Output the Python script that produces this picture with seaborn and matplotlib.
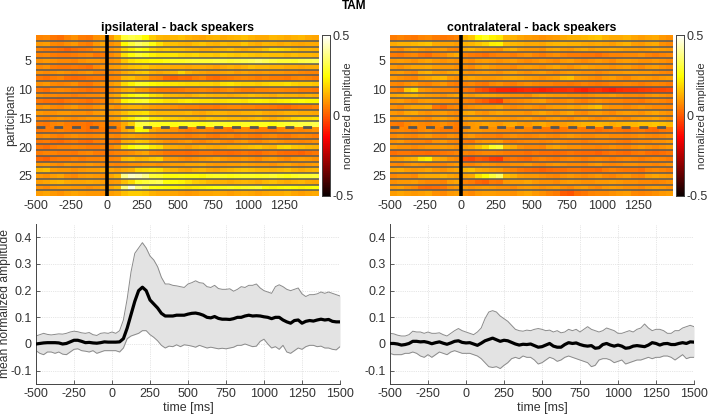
import matplotlib
matplotlib.use('Agg')
import matplotlib.pyplot as plt
import seaborn as sns
import numpy as np
import pandas as pd

sns.set_style('white')
plt.rcParams['font.family'] = ['Liberation Sans', 'DejaVu Sans']

# heatmap values in hundredths, one row per participant, 50 ms bins from -500
ipsi_rows = [
[6,7,4,3,6,8,5,4,8,9, 9,16,30,32,30,24,17,14,13,14,15,13,12,11,13,14,12,13,14,15,13,12,12,14,13,12,13,14,12,11],
[9,10,7,6,8,9,6,5,9,11, 8,10,24,30,34,32,26,20,16,15,14,13,15,16,14,13,15,14,14,16,13,12,14,13,12,13,12,11,12,12],
[6,5,4,3,1,3,4,5,8,9, 8,10,18,22,26,24,18,16,17,15,15,14,13,12,12,13,14,15,13,12,13,14,16,19,18,17,15,14,14,13],
[6,7,5,4,4,5,6,7,4,5, 7,9,20,25,29,27,23,21,21,21,19,18,19,17,17,16,18,17,16,17,16,15,16,15,15,14,15,14,14,13],
[8,9,8,7,7,6,8,9,9,8, 8,9,16,20,22,23,24,24,26,28,28,29,30,30,30,31,31,30,31,32,33,35,33,31,30,30,29,31,32,33],
[7,8,5,4,4,5,4,3,7,8, 9,10,13,15,16,17,14,13,13,12,12,11,12,12,11,10,12,13,12,13,15,14,14,13,13,12,12,11,12,12],
[8,7,8,9,8,7,8,9,7,6, 7,8,12,14,16,17,13,12,13,14,18,14,12,11,10,10,11,12,10,11,10,9,10,9,9,8,8,7,6,6],
[4,3,5,6,3,2,3,4,5,4, 6,7,14,15,12,11,7,6,2,1,3,2,5,6,3,2,4,5,6,7,6,5,6,5,5,4,6,7,6,5],
[8,9,7,6,7,8,5,4,7,8, 9,11,19,23,28,27,24,23,22,21,20,19,19,18,18,17,20,21,19,18,18,17,18,19,19,20,18,17,17,16],
[4,3,6,7,6,5,4,3,4,5, 6,8,12,13,10,9,6,5,5,4,5,6,6,7,6,5,7,8,6,5,5,6,6,7,7,6,6,5,5,4],
[8,7,7,6,6,5,6,7,7,8, 10,12,21,24,27,26,20,18,15,14,13,12,14,15,14,13,13,12,13,14,15,14,13,12,14,13,13,12,13,12],
[4,3,3,2,4,5,4,3,5,6, 9,12,23,26,28,29,23,22,20,19,21,22,21,20,20,19,20,21,21,20,22,23,22,21,22,23,24,25,24,24],
[8,9,7,6,8,9,7,6,8,9, 9,8,12,13,13,12,10,9,9,8,7,6,6,5,5,4,6,7,7,6,6,5,5,4,3,2,4,5,5,6],
[9,8,8,9,9,8,8,7,9,10, 10,11,15,18,19,20,15,14,14,13,13,14,12,11,13,14,13,12,12,13,13,14,12,11,12,13,13,12,12,11],
[7,6,8,9,8,7,8,9,9,10, 10,11,19,22,28,29,21,20,18,17,16,15,15,14,16,15,15,14,14,13,14,15,13,12,14,15,18,19,19,20],
[5,4,6,7,5,4,4,3,5,6, 6,7,12,17,30,31,28,27,27,26,27,28,27,26,28,29,28,27,27,28,28,27,27,26,28,29,30,31,31,32],
[4,5,5,6,5,4,4,3,4,5, 4,5,11,14,24,23,12,10,9,8,6,5,6,7,6,5,5,4,6,7,6,5,5,4,6,7,7,6,7,8],
[7,8,6,5,7,8,7,6,7,8, 7,6,10,11,10,9,8,7,7,6,6,5,6,7,5,4,6,7,5,6,5,4,6,7,5,4,6,7,6,5],
[4,5,3,2,4,5,3,2,5,6, 5,4,12,13,16,15,11,10,8,7,8,9,7,6,8,9,7,6,8,9,7,6,8,9,8,7,7,6,7,8],
[4,3,5,6,6,7,6,5,5,6, 7,9,20,24,28,27,21,19,13,12,11,10,12,13,12,11,12,13,13,14,15,16,14,13,18,19,16,15,14,13],
[5,6,6,5,5,4,6,7,5,4, 5,6,7,8,10,11,7,6,4,3,3,2,3,4,4,3,3,2,3,4,3,2,4,5,3,2,2,1,3,4],
[2,1,4,5,5,6,5,6,6,7, 6,7,14,15,13,14,16,17,10,9,8,7,8,9,10,11,9,8,8,9,8,7,9,10,8,7,9,10,9,8],
[9,10,8,7,9,8,8,9,8,7, 7,6,7,8,8,9,9,8,9,10,10,11,11,12,10,9,9,10,10,11,10,9,9,8,10,11,9,8,9,10],
[14,15,10,9,9,8,9,10,10,11, 11,10,12,13,18,19,20,19,15,14,12,11,13,14,12,11,13,14,15,16,15,14,14,13,14,15,13,12,13,14],
[9,8,10,11,8,7,9,10,9,8, 11,14,38,44,42,38,30,29,26,25,26,25,25,24,27,28,27,26,27,28,28,27,28,29,27,26,28,29,29,30],
[10,11,13,14,12,11,11,12,11,10, 9,10,15,19,28,30,32,33,25,24,23,20,17,16,14,13,13,12,13,14,13,12,14,15,13,12,13,14,12,11],
[8,7,9,10,10,9,9,8,9,10, 11,14,36,46,36,32,26,25,24,23,22,21,22,23,24,25,26,27,26,27,28,29,24,23,24,25,24,23,24,25],
[10,11,9,8,10,11,10,9,9,8, 10,11,15,17,17,16,13,12,12,11,10,9,10,11,11,12,11,10,11,12,11,10,11,12,12,13,11,10,11,12],
]
contra_rows = [
[5,6,5,4,6,7,5,4,5,6, 13,16,24,28,23,21,14,13,11,10,9,8,9,10,12,13,13,14,15,16,13,12,12,13,11,10,11,12,9,8],
[12,13,13,14,15,16,12,11,11,10, 13,14,16,18,22,23,15,14,13,12,12,11,13,14,14,13,13,12,11,12,11,10,12,13,10,9,11,12,8,7],
[8,7,10,11,9,8,9,10,7,6, 12,13,11,10,9,8,12,13,10,9,9,8,11,12,10,9,11,12,10,11,11,12,11,10,10,9,10,11,10,9],
[5,4,6,7,4,3,6,7,10,12, 6,5,4,3,5,6,6,5,7,8,6,5,7,8,6,5,5,4,4,3,5,6,6,7,7,8,6,5,6,7],
[9,10,9,8,10,11,9,8,9,8, 8,7,9,10,9,8,9,10,8,7,8,9,8,7,9,10,8,7,8,9,8,7,9,10,9,8,8,9,8,7],
[9,8,10,11,11,12,10,9,9,8, 8,7,10,11,9,8,8,7,9,10,9,8,10,11,9,8,10,11,10,9,9,8,9,10,8,7,9,10,8,7],
[9,10,8,7,12,13,10,9,11,12, 9,8,9,10,9,8,10,11,9,8,9,10,8,7,9,10,9,8,8,7,8,9,9,10,10,9,9,8,7,6],
[9,8,7,6,10,11,13,14,9,8, 10,11,10,9,9,10,11,12,11,10,9,8,9,10,14,15,10,9,8,7,9,10,8,7,9,10,9,8,9,10],
[7,6,8,9,7,6,8,9,6,5, 6,7,5,4,7,8,6,5,7,8,7,6,6,5,5,4,5,6,5,4,5,6,6,7,6,5,6,7,6,5],
[6,5,16,19,9,8,7,6,6,5, 4,3,-1,-3,-6,-8,-8,-9,-8,-7,-8,-9,-8,-7,-7,-6,-8,-9,-7,-6,-8,-9,-7,-6,-6,-5,-4,-3,-3,-2],
[11,12,13,14,11,10,9,8,10,11, 10,9,11,12,11,10,9,8,8,7,10,11,10,9,9,8,8,7,8,9,9,10,8,7,7,6,8,9,8,7],
[9,10,8,7,9,10,9,8,8,7, 6,5,2,0,-3,-4,5,6,7,8,9,10,7,6,7,8,6,5,7,8,7,6,6,5,5,4,6,7,6,5],
[8,7,10,11,11,12,4,2,6,7, 7,8,9,10,10,11,8,7,8,9,8,7,9,10,10,11,10,11,13,15,9,8,8,7,8,9,8,7,7,6],
[9,8,11,12,9,8,9,10,8,7, 11,12,9,8,10,11,10,9,9,8,10,11,9,8,10,11,8,7,9,10,8,7,9,10,9,8,10,11,9,8],
[9,10,9,8,8,7,10,11,9,8, 10,11,11,10,10,9,9,8,9,10,8,7,9,10,8,7,9,10,8,7,8,9,8,7,9,10,10,11,9,8],
[5,4,7,8,7,6,7,8,6,5, 8,9,10,11,10,9,11,12,10,9,11,12,10,9,10,11,12,13,13,14,13,12,13,14,14,15,15,16,15,14],
[6,7,6,5,7,8,6,5,5,4, 8,9,9,8,8,7,7,6,7,6,5,4,4,3,4,5,5,4,4,3,4,5,4,3,4,5,3,2,4,5],
[7,8,7,6,8,9,7,6,8,7, 8,9,7,6,6,5,7,8,7,6,7,8,7,6,8,9,8,7,7,8,8,7,7,6,7,8,7,6,7,8],
[8,9,7,6,6,5,8,9,7,6, 5,4,8,9,9,10,6,5,6,7,7,6,7,8,7,6,6,5,6,7,7,6,5,4,6,7,7,8,8,9],
[9,8,8,7,8,9,9,10,9,8, 10,11,15,19,28,30,14,12,8,7,7,6,10,11,9,8,8,7,7,6,7,8,7,6,8,9,8,7,8,9],
[3,4,4,3,3,2,3,4,5,6, 6,5,6,7,7,6,5,4,4,3,4,3,3,2,3,4,3,2,2,1,3,4,3,2,4,5,3,2,3,4],
[9,10,12,13,20,22,12,11,8,7, -2,-3,0,-1,-4,-5,3,4,3,2,5,6,5,4,6,7,6,5,6,7,6,5,6,7,6,5,6,7,6,5],
[7,6,8,9,8,7,7,6,8,9, 7,6,8,9,8,7,7,8,8,9,7,6,8,9,8,7,7,6,8,9,7,6,7,8,8,7,7,6,7,8],
[11,12,10,9,10,11,9,8,10,11, 14,15,12,11,10,9,7,6,4,3,2,1,2,3,3,4,4,3,3,2,5,6,5,4,4,3,6,7,6,5],
[7,8,8,7,11,12,12,13,11,10, 11,12,20,24,30,34,15,13,10,9,9,8,7,6,8,9,8,7,8,9,7,6,8,9,7,6,10,11,10,9],
[8,9,9,10,8,7,7,6,10,11, 6,5,2,1,5,4,9,10,10,11,9,8,8,7,9,10,9,8,8,9,9,10,9,8,8,7,7,6,7,8],
[9,10,8,7,3,2,3,4,8,9, 9,8,9,10,9,8,8,7,9,10,9,8,9,10,8,7,9,10,8,7,9,10,9,8,8,7,9,10,9,8],
[10,11,10,9,10,11,8,7,9,10, 8,7,9,10,10,9,9,8,10,11,9,8,6,5,0,-1,3,4,6,7,7,8,9,10,7,6,7,8,9,10],
]

# 25 ms steps from -500 to 1500
time_ms = list(range(-500, 1501, 25))
ipsi_mean = [0,.002,.004,.005,.005,.005,.004,0,.002,.008,.014,.014,.01,.005,.006,.004,.003,.005,.008,.007,
.007,.007,.008,.02,.06,.11,.16,.2,.213,.2,.165,.15,.135,.115,.105,.105,.105,.108,.108,.108,
.112,.115,.116,.113,.108,.1,.098,.103,.096,.093,.093,.092,.095,.1,.1,.105,.108,.105,.106,.105,
.102,.1,.095,.1,.1,.09,.083,.078,.088,.09,.078,.085,.088,.086,.09,.093,.09,.092,.085,.083,.083]
ipsi_upper = [.03,.035,.04,.036,.034,.036,.038,.037,.04,.045,.048,.046,.042,.04,.043,.035,.032,.04,.042,.04,
.045,.04,.05,.09,.17,.27,.34,.36,.38,.36,.33,.315,.29,.25,.225,.225,.22,.218,.215,.212,
.225,.23,.237,.23,.228,.215,.212,.22,.208,.205,.205,.207,.198,.205,.215,.212,.22,.22,.225,.21,
.2,.195,.19,.215,.222,.215,.205,.2,.205,.21,.188,.178,.185,.185,.188,.195,.19,.195,.19,.185,.18]
ipsi_lower = [-.025,-.035,-.04,-.03,-.03,-.035,-.03,-.038,-.04,-.03,-.02,-.018,-.025,-.027,-.03,-.025,-.035,-.03,-.025,-.025,
-.025,-.025,-.03,-.015,.02,.03,.035,.04,.05,.05,.035,.025,.012,-.005,-.015,-.008,-.01,-.003,-.01,-.003,
-.005,-.008,-.012,-.005,-.01,-.015,-.012,-.015,-.018,-.016,-.018,-.015,-.012,-.005,-.005,0,-.005,-.01,-.008,.01,
.018,0,-.015,-.01,-.02,-.005,-.03,-.035,-.025,-.015,-.02,-.01,-.005,-.005,-.01,-.008,-.015,-.015,-.02,-.022,-.01]
contra_mean = [.002,.002,0,-.004,-.002,.002,.01,.01,.008,.009,.006,.001,.005,.008,.003,-.001,.004,.01,.012,.006,
.004,.005,0,-.005,.003,.012,.017,.022,.016,.01,.014,.012,.006,0,-.004,-.001,-.002,0,-.006,-.012,
-.01,-.004,.002,-.008,-.012,-.012,-.002,.005,.002,.004,-.002,-.006,-.008,-.006,-.016,-.014,-.002,.002,-.004,-.008,
-.004,-.008,-.016,-.014,-.008,-.006,-.008,-.01,-.004,.005,.002,-.004,.001,.002,-.002,-.002,.002,.005,.002,.008,.007]
contra_upper = [.04,.038,.033,.03,.03,.035,.048,.045,.045,.04,.045,.04,.04,.042,.035,.03,.04,.05,.058,.05,
.045,.04,.035,.045,.06,.095,.12,.125,.12,.105,.095,.085,.07,.055,.05,.048,.052,.05,.055,.058,
.055,.05,.052,.045,.05,.042,.045,.055,.05,.055,.045,.055,.065,.055,.05,.045,.05,.06,.055,.05,
.04,.04,.045,.05,.045,.055,.06,.075,.06,.05,.055,.055,.05,.04,.04,.05,.05,.06,.065,.07,.065]
contra_lower = [-.035,-.04,-.04,-.04,-.035,-.035,-.03,-.035,-.045,-.05,-.04,-.05,-.04,-.03,-.035,-.04,-.03,-.025,-.03,-.035,
-.035,-.035,-.04,-.045,-.055,-.07,-.085,-.088,-.085,-.092,-.08,-.07,-.055,-.05,-.055,-.045,-.05,-.05,-.06,-.075,
-.07,-.06,-.05,-.055,-.065,-.06,-.05,-.045,-.05,-.055,-.06,-.065,-.07,-.085,-.08,-.06,-.055,-.055,-.06,-.07,
-.065,-.06,-.075,-.07,-.065,-.06,-.06,-.055,-.05,-.055,-.05,-.05,-.045,-.045,-.05,-.06,-.05,-.04,-.055,-.05,-.05]

heat_titles = ['ipsilateral - back speakers', 'contralateral - back speakers']
bin_ms = list(range(-500, 1500, 50))
heat_xticks = [-500, -250, 0, 250, 500, 750, 1000, 1250]
heat_yticks = [5, 10, 15, 20, 25]
line_xticks = [-500, -250, 0, 250, 500, 750, 1000, 1250, 1500]
line_yticks = [-0.1, 0, 0.1, 0.2, 0.3, 0.4]

W, H = 708, 418
TXT = '#333333'
FS = 9


def px_axes(fig, x0, y0, x1, y1):
    return fig.add_axes([x0 / W, 1 - y1 / H, (x1 - x0) / W, (y1 - y0) / H])


def fmt(v):
    return '0' if v == 0 else f'{v:g}'


def plot_heat(fig, rows, title, x0, show_ylabel):
    ax = px_axes(fig, x0, 35, x0 + 283, 196)
    cax = px_axes(fig, x0 + 286, 35, x0 + 294, 196)
    df = pd.DataFrame(np.array(rows) / 100, columns=bin_ms, index=range(1, len(rows) + 1))
    sns.heatmap(df, ax=ax, cmap='hot', vmin=-0.5, vmax=0.5, cbar_ax=cax,
                xticklabels=False, yticklabels=False)
    ncol = len(bin_ms)
    for y in range(1, len(rows)):
        if y == 16:
            ax.plot([0, ncol * 0.975], [y, y], color='#555555', lw=2, ls=(0, (3.2, 3.2)))
        else:
            ax.plot([0, ncol], [y, y], color='#5a5a5a', lw=1.1)
    ax.plot([10, 10], [0, 28], color='black', lw=2.6)
    ax.set_xticks([(t + 500) / 50 for t in heat_xticks])
    ax.set_xticklabels([str(t) for t in heat_xticks], fontsize=FS, color=TXT)
    ax.set_yticks([v - 0.5 for v in heat_yticks])
    ax.set_yticklabels([str(v) for v in heat_yticks], fontsize=FS, color=TXT, rotation=0)
    ax.tick_params(length=0, pad=3)
    ax.set_xlabel('')
    ax.set_ylabel('participants' if show_ylabel else '', fontsize=8.7, color=TXT)
    ax.yaxis.set_label_coords(-19 / 283, 0.5)
    ax.set_title(title, fontsize=8.8, fontweight='bold', color='black', pad=3)
    cax.set_yticks([-0.5, 0, 0.5])
    cax.set_yticklabels(['-0.5', '0', '0.5'], fontsize=FS, color=TXT)
    cax.tick_params(length=0, pad=2)
    cax.set_ylabel('normalized amplitude', fontsize=8, color=TXT)
    cax.yaxis.set_label_coords(2.6, 0.5)
    for s in cax.spines.values():
        s.set_visible(True)
        s.set_color('#444444')
        s.set_linewidth(0.6)


def plot_line(fig, mean, upper, lower, x0, show_ylabel):
    ax = px_axes(fig, x0, 224, x0 + 304, 384)
    ax.fill_between(time_ms, lower, upper, color='#e3e3e3', lw=0, zorder=1)
    df = pd.DataFrame({'time': time_ms, 'mean': mean, 'upper': upper, 'lower': lower})
    sns.lineplot(data=df, x='time', y='upper', ax=ax, color='#8a8a8a', lw=0.7, zorder=2)
    sns.lineplot(data=df, x='time', y='lower', ax=ax, color='#8a8a8a', lw=0.7, zorder=2)
    sns.lineplot(data=df, x='time', y='mean', ax=ax, color='black', lw=2.3, zorder=3)
    ax.set_xlim(-500, 1500)
    ax.set_ylim(-0.15, 0.45)
    ax.set_xticks(line_xticks)
    ax.set_xticklabels([str(t) for t in line_xticks], fontsize=FS, color=TXT)
    ax.set_yticks(line_yticks)
    ax.set_yticklabels([fmt(v) for v in line_yticks], fontsize=FS, color=TXT)
    ax.tick_params(direction='in', length=3, width=0.6, color='#444444', pad=3,
                   bottom=True, left=True)
    ax.grid(True, ls=':', lw=0.5, color='#cfcfcf')
    ax.set_axisbelow(True)
    sns.despine(ax=ax)
    for s in ['left', 'bottom']:
        ax.spines[s].set_color('#444444')
        ax.spines[s].set_linewidth(0.7)
    ax.set_xlabel('time [ms]', fontsize=FS, color=TXT, labelpad=1)
    ax.set_ylabel('mean normalized amplitude' if show_ylabel else '', fontsize=8.7, color=TXT)
    ax.yaxis.set_label_coords(-25 / 304, 0.5)


fig = plt.figure(figsize=(W / 100, H / 100), dpi=100)
plot_heat(fig, ipsi_rows, heat_titles[0], 36, True)
plot_heat(fig, contra_rows, heat_titles[1], 390, False)
plot_line(fig, ipsi_mean, ipsi_upper, ipsi_lower, 36, True)
plot_line(fig, contra_mean, contra_upper, contra_lower, 390, False)
fig.text(354 / W, 1 - 6 / H, 'TAM', fontsize=8.5, fontweight='bold', ha='center', va='center', color='black')
fig.savefig('out.png', dpi=100)
